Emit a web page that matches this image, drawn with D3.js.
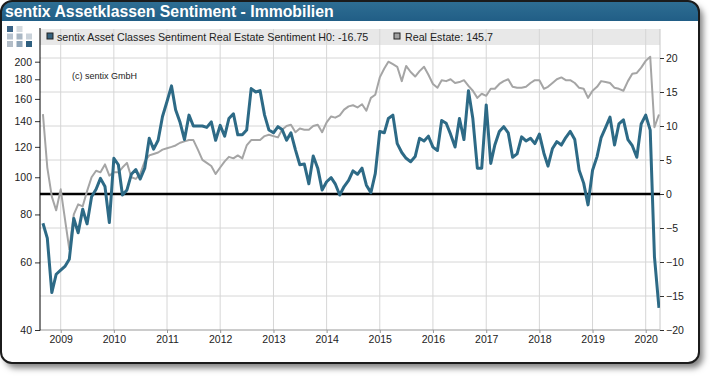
<!DOCTYPE html>
<html>
<head>
<meta charset="utf-8">
<script src="https://cdn.jsdelivr.net/npm/d3@7"></script>
<style>
  body { margin: 0; background: #fff; }
  svg { display: block; font-family: "Liberation Sans", Arial, sans-serif; }
</style>
</head>
<body>
<svg id="chart" width="710" height="376"></svg>
<script>
// monthly readings, Sep 2008 .. Apr 2020
var firstMonth = new Date(2008, 8, 1),
    lastMonth = new Date(2020, 3, 1);

// sentix Real Estate sentiment H0 (right axis)
var sentiment = [
  -4.3, -6.5, -14.5, -11.8,
  -11.2, -10.6, -9.6, -3.6, -5.7, -2.25, -4.4, -0.4, 0.7, 2.3, 1.1, -4.2,
  5.25, 4.3, -0.15, 0.6, 2.9, 3.6, 2.2, 3.8, 8.2, 6.6, 7.9, 11.4,
  13.6, 15.9, 12.4, 10.5, 8.0, 11.6, 10.0, 10.0, 10.0, 9.8, 10.6, 7.9,
  10.1, 8.5, 11.1, 11.8, 8.7, 8.7, 9.4, 15.5, 15.0, 15.2, 11.6, 9.4,
  9.0, 9.9, 9.5, 7.9, 9.0, 6.5, 4.3, 4.4, 1.5, 5.6, 3.8, 0.6,
  1.8, 2.4, 1.5, -0.15, 1.1, 2.0, 3.4, 2.9, 3.8, 1.3, 0.2, 3.0,
  9.2, 9.0, 11.1, 11.6, 7.4, 6.1, 5.25, 4.75, 5.5, 8.2, 7.8, 8.5,
  6.9, 6.4, 10.8, 10.4, 8.8, 6.9, 11.1, 8.0, 15.2, 11.1, 3.8, 3.8,
  13.1, 4.5, 7.2, 9.2, 9.9, 9.0, 5.4, 5.9, 8.4, 7.8, 8.2, 7.4,
  8.8, 6.0, 4.1, 6.7, 7.7, 7.2, 8.3, 9.2, 8.0, 3.5, 1.6, -1.6,
  3.5, 5.5, 8.3, 9.8, 11.3, 7.2, 10.3, 10.9, 8.0, 7.1, 5.4, 10.3,
  11.6, 9.4, -9.2, -16.75
];

// Real Estate index (left axis, log)
var realEstate = [
  146, 106, 89, 82,
  93, 77, 65, 80, 85, 84, 92, 100, 104, 103, 108, 101,
  103, 103, 106, 109, 100, 99, 102, 110, 114, 115, 116, 118,
  119, 120, 121, 123, 124, 125, 125, 118, 111, 109, 107, 102,
  106, 110, 113, 112, 114, 112, 121, 125, 125, 125, 128, 129,
  128, 127, 133, 136, 137, 131, 134, 133, 133, 136, 137, 131,
  139, 144, 143, 145, 150, 153, 154, 152, 155, 149, 161, 164,
  182, 192, 200, 197, 194, 178, 195, 188, 183, 189, 194, 185,
  175, 171, 179, 178, 180, 176, 177, 179, 173, 168, 161, 165,
  163, 170, 170, 175, 178, 180, 172, 171, 171, 172, 176, 179,
  179, 170, 172, 176, 180, 182, 179, 179, 176, 171, 170, 161,
  168, 172, 178, 177, 176, 171, 170, 168, 178, 186, 187, 193,
  201, 206, 135, 145.7
];

var leftTicks = [40, 60, 80, 100, 120, 140, 160, 180, 200];
var rightTicks = [-20, -15, -10, -5, 0, 5, 10, 15, 20];
var years = d3.range(2009, 2021);

var legendBlue = "sentix Asset Classes Sentiment Real Estate Sentiment H0: -16.75",
    legendGrey = "Real Estate: 145.7";

(function() {
  var blue = "#2d6a86", grey = "#a5a5a5", gridColor = "#d6d6d6";

  var svg = d3.select("#chart");
  var pLeft = 40, pRight = 660, pTop = 29, pBottom = 330;

  var months = d3.timeMonth.range(firstMonth, d3.timeMonth.offset(lastMonth, 1));
  var data = months.map(function(m, i) {
    return {date: m, h0: sentiment[i], re: realEstate[i]};
  });

  var x = d3.scaleTime()
      .domain([new Date(2009, 0, 1), new Date(2020, 0, 1)])
      .range([60.7, 645.7]);
  var yL = d3.scaleLog().domain([40, 200]).range([pBottom, 61.7]);
  var yR = d3.scaleLinear().domain([-20, 20]).range([pBottom, 58]);

  // frame + shadow
  var defs = svg.append("defs");
  var f = defs.append("filter").attr("id", "shadow")
      .attr("x", "-5%").attr("y", "-5%").attr("width", "115%").attr("height", "115%");
  f.append("feDropShadow").attr("dx", 4).attr("dy", 5).attr("stdDeviation", 3)
      .attr("flood-color", "#000").attr("flood-opacity", 0.5);
  defs.append("clipPath").attr("id", "frameClip")
    .append("rect").attr("x", 1).attr("y", 1).attr("width", 698).attr("height", 362).attr("rx", 11);
  defs.append("clipPath").attr("id", "plotClip")
    .append("rect").attr("x", pLeft).attr("y", pTop).attr("width", pRight - pLeft).attr("height", pBottom - pTop + 4);
  var grad = defs.append("linearGradient").attr("id", "titleGrad")
      .attr("x1", 0).attr("y1", 0).attr("x2", 0).attr("y2", 1);
  grad.append("stop").attr("offset", 0).attr("stop-color", "#2f6f94");
  grad.append("stop").attr("offset", 1).attr("stop-color", "#215e86");

  svg.append("rect").attr("x", 1).attr("y", 1).attr("width", 698).attr("height", 362).attr("rx", 11)
      .attr("fill", "#fff").attr("filter", "url(#shadow)");
  svg.append("rect").attr("x", 0).attr("y", 0).attr("width", 710).attr("height", 21)
      .attr("fill", "url(#titleGrad)").attr("clip-path", "url(#frameClip)");
  svg.append("rect").attr("x", 1).attr("y", 1).attr("width", 698).attr("height", 362).attr("rx", 11)
      .attr("fill", "none").attr("stroke", "#1b1b1b").attr("stroke-width", 2);
  svg.append("text").attr("x", 5).attr("y", 17)
      .attr("fill", "#fff").attr("font-weight", "bold").attr("font-size", "15.8px")
      .text("sentix Assetklassen Sentiment - Immobilien");

  // logo squares
  var logo = [[0, 0, "#3b6487"], [1, 0, "#d5dbe0"], [0, 1, "#b7c3cf"], [1, 1, "#a9b7c4"],
              [2, 1, "#c9d2da"], [0, 2, "#b3bdc7"], [1, 2, "#8fa5b8"], [2, 2, "#2f6080"]];
  svg.append("g").selectAll("rect").data(logo).enter().append("rect")
      .attr("x", function(d) { return 7 + d[0] * 9.5; })
      .attr("y", function(d) { return 26 + d[1] * 7.5; })
      .attr("width", 6).attr("height", 6)
      .attr("fill", function(d) { return d[2]; });

  // legend band
  svg.append("rect").attr("x", pLeft).attr("y", pTop).attr("width", pRight - pLeft).attr("height", 16)
      .attr("fill", "#e8e8e8");

  // grid
  svg.append("g").selectAll("line").data(rightTicks.filter(function(d) { return d !== -20 && d !== 0; }))
    .enter().append("line")
      .attr("x1", pLeft).attr("x2", pRight)
      .attr("y1", function(d) { return yR(d); }).attr("y2", function(d) { return yR(d); })
      .attr("stroke", gridColor);
  svg.append("g").selectAll("line").data(years).enter().append("line")
      .attr("x1", function(d) { return x(new Date(d, 0, 1)); })
      .attr("x2", function(d) { return x(new Date(d, 0, 1)); })
      .attr("y1", pTop).attr("y2", pBottom)
      .attr("stroke", gridColor);

  // legend entries
  svg.append("rect").attr("x", 47).attr("y", 33).attr("width", 6).attr("height", 6)
      .attr("fill", "#36627e").attr("stroke", "#222");
  svg.append("text").attr("x", 57).attr("y", 40.5).attr("font-size", "10.7px").attr("fill", "#222")
      .text(legendBlue);
  svg.append("rect").attr("x", 394).attr("y", 33).attr("width", 6).attr("height", 6)
      .attr("fill", "#a0a0a0").attr("stroke", "#222");
  svg.append("text").attr("x", 405).attr("y", 40.5).attr("font-size", "10.7px").attr("fill", "#222")
      .text(legendGrey);

  svg.append("text").attr("x", 72).attr("y", 79).attr("font-size", "9px").attr("fill", "#222")
      .text("(c) sentix GmbH");

  // plot border lines
  svg.append("line").attr("x1", pLeft).attr("x2", pRight).attr("y1", pBottom).attr("y2", pBottom)
      .attr("stroke", "#999");
  svg.append("line").attr("x1", pRight).attr("x2", pRight).attr("y1", pTop).attr("y2", pBottom)
      .attr("stroke", "#c8c8c8");

  // zero line
  svg.append("line").attr("x1", pLeft).attr("x2", pRight)
      .attr("y1", yR(0)).attr("y2", yR(0))
      .attr("stroke", "#000").attr("stroke-width", 2.5);

  // series
  var plot = svg.append("g").attr("clip-path", "url(#plotClip)");
  plot.append("path").datum(data)
      .attr("fill", "none").attr("stroke", grey).attr("stroke-width", 2)
      .attr("stroke-linejoin", "round")
      .attr("d", d3.line().x(function(d) { return x(d.date); }).y(function(d) { return yL(d.re); }));
  plot.append("path").datum(data)
      .attr("fill", "none").attr("stroke", blue).attr("stroke-width", 3)
      .attr("stroke-linejoin", "round")
      .attr("d", d3.line().x(function(d) { return x(d.date); }).y(function(d) { return yR(d.h0); }));

  // axes
  var gL = svg.append("g").attr("transform", "translate(" + pLeft + ",0)")
      .call(d3.axisLeft(yL).tickValues(leftTicks).tickFormat(d3.format("d")).tickSize(5).tickPadding(3));
  var gR = svg.append("g").attr("transform", "translate(" + pRight + ",0)")
      .call(d3.axisRight(yR).tickValues(rightTicks).tickSize(4).tickPadding(2));
  var gB = svg.append("g").attr("transform", "translate(0," + pBottom + ")")
      .call(d3.axisBottom(x).tickValues(years.map(function(y) { return new Date(y, 0, 1); }))
        .tickFormat(d3.timeFormat("%Y")).tickSize(3).tickPadding(3));

  [gL, gR, gB].forEach(function(g) {
    g.select(".domain").remove();
    g.selectAll("text").attr("font-size", "10.5px").attr("fill", "#222")
      .attr("font-family", "\"Liberation Sans\", Arial, sans-serif");
    g.selectAll(".tick line").attr("stroke", "#333");
  });
  gB.selectAll(".tick line").attr("stroke", "#999");

  svg.append("line").attr("x1", pLeft).attr("x2", pLeft).attr("y1", pTop - 1).attr("y2", pBottom + 0.5)
      .attr("stroke", "#000");
})();
</script>
</body>
</html>
